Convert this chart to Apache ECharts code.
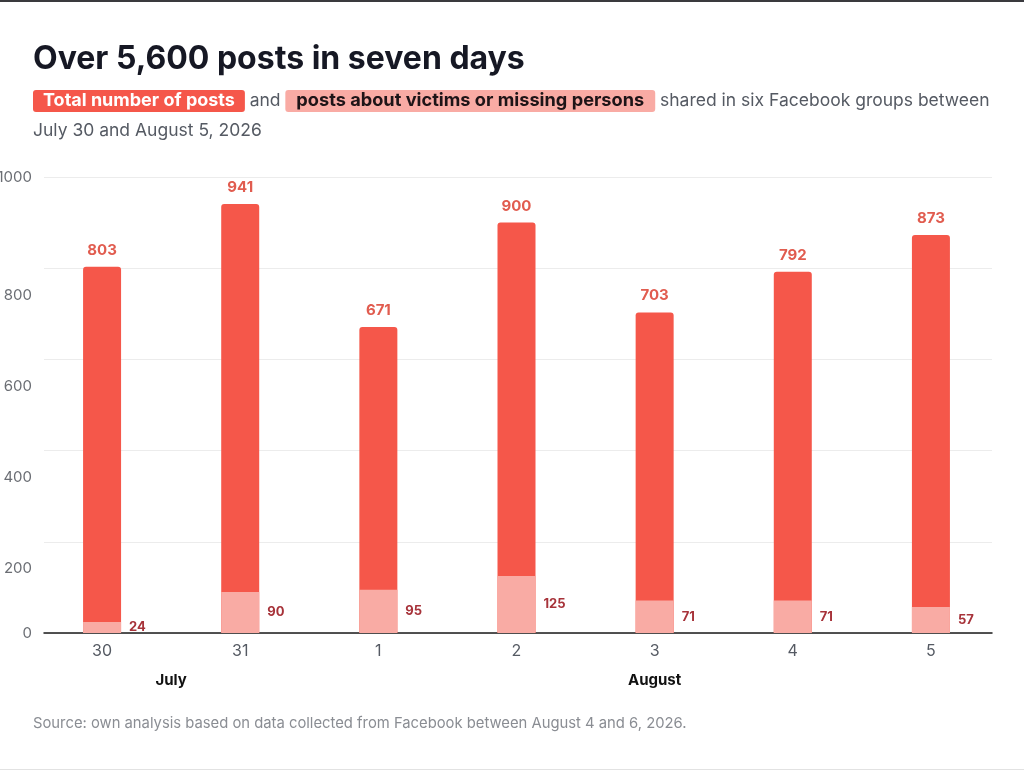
<!DOCTYPE html>
<html>
<head>
<meta charset="utf-8">
<script src="https://cdn.jsdelivr.net/npm/echarts@6/dist/echarts.min.js"></script>
<style>
html,body{margin:0;padding:0;background:#fff;}
#chart{width:1024px;height:773px;}
</style>
</head>
<body>
<div id="chart"></div>
<script>
// ---- data ----
var days = ['30', '31', '1', '2', '3', '4', '5'];
var totalPosts = [803, 941, 671, 900, 703, 792, 873];
var victimPosts = [24, 90, 95, 125, 71, 71, 57];
var monthPositions = [0.5, 4];
var monthNames = ['July', 'August'];

var FONT = 'Inter, "Noto Sans", sans-serif';
var RED = '#f5574a';
var PINK = '#f9aba4';

var chart = echarts.init(document.getElementById('chart'), null, {renderer: 'canvas'});

var option = {
  backgroundColor: '#ffffff',
  animation: false,
  textStyle: {fontFamily: FONT},
  title: [
    {
      text: 'Over 5,600 posts in seven days',
      left: 33, top: 43, padding: 0,
      textStyle: {fontFamily: FONT, fontSize: 32, fontWeight: 700, color: '#161824', letterSpacing: -0.5}
    },
    {
      text: '{r|Total number of posts} {g|and} {p|posts about victims or missing persons} {g|shared in six Facebook groups between}\n{g|July 30 and August 5, 2026}',
      left: 33, top: 86, padding: 0,
      textStyle: {
        fontFamily: FONT, fontSize: 17, fontWeight: 400, color: '#555a63', lineHeight: 30,
        rich: {
          r: {fontFamily: FONT, fontSize: 18, fontWeight: 700, color: '#ffffff', backgroundColor: RED, borderRadius: 3, padding: [2, 10, 2, 10], lineHeight: 30},
          p: {fontFamily: FONT, fontSize: 18.2, fontWeight: 700, color: '#1e1417', backgroundColor: PINK, borderRadius: 3, padding: [2, 11, 2, 11], lineHeight: 30},
          g: {fontFamily: FONT, fontSize: 17.5, fontWeight: 400, color: '#555a63', lineHeight: 30}
        }
      }
    },
    {
      text: 'Source: own analysis based on data collected from Facebook between August 4 and 6, 2026.',
      left: 33, top: 716, padding: 0,
      textStyle: {fontFamily: FONT, fontSize: 14.8, fontWeight: 400, color: '#8a8d93'}
    }
  ],
  grid: [
    {left: 44, right: 32, top: 177, bottom: 140, containLabel: false, outerBoundsMode: 'none'},
    {left: 33, right: 24, top: 177, bottom: 140, containLabel: false, outerBoundsMode: 'none'}
  ],
  xAxis: [
    {
      type: 'value', gridIndex: 0, min: 0, max: 1, interval: 1,
      axisLine: {show: true, onZero: false, lineStyle: {color: '#1a1a1a', width: 1.5}},
      axisTick: {show: false}, axisLabel: {show: false}, splitLine: {show: false}
    },
    {
      type: 'category', gridIndex: 1, data: days,
      axisLine: {show: false}, axisTick: {show: false}, splitLine: {show: false},
      axisLabel: {margin: 10, fontFamily: FONT, fontSize: 16, color: '#555a63'}
    },
    {
      type: 'value', gridIndex: 1, position: 'bottom', offset: 30,
      min: -0.5, max: 6.5, interval: 0.5,
      axisLine: {show: false}, axisTick: {show: false}, splitLine: {show: false},
      axisLabel: {
        margin: 10, fontFamily: FONT, fontSize: 15, fontWeight: 700, color: '#111111',
        showMinLabel: false, showMaxLabel: false,
        formatter: function (v) {
          for (var i = 0; i < monthPositions.length; i++) {
            if (Math.abs(v - monthPositions[i]) < 1e-6) return monthNames[i];
          }
          return '';
        }
      }
    }
  ],
  yAxis: [
    {
      type: 'value', gridIndex: 0, min: 0, max: 1000, interval: 200,
      axisLine: {show: false}, axisTick: {show: false},
      splitLine: {show: true, lineStyle: {color: '#ececec', width: 1}},
      axisLabel: {
        margin: 12, fontFamily: FONT, fontSize: 15, color: '#6b6e74',
        formatter: function (v) {
          if (v > 0 && v < 1000) return '{s|' + v + '}';
          return '{n|' + v + '}';
        },
        rich: {
          s: {fontFamily: FONT, fontSize: 15, color: '#6b6e74', padding: [54, 0, 0, 0]},
          n: {fontFamily: FONT, fontSize: 15, color: '#6b6e74'}
        }
      }
    },
    {
      type: 'value', gridIndex: 1, min: 0, max: 1000, interval: 200, show: false,
      splitLine: {show: false}
    }
  ],
  series: [
    {
      name: 'Total number of posts',
      type: 'bar', xAxisIndex: 1, yAxisIndex: 1,
      data: totalPosts, barWidth: 38, barGap: '-100%',
      itemStyle: {color: RED, borderRadius: [3, 3, 0, 0]},
      label: {show: true, position: 'top', distance: 9, fontFamily: FONT, fontSize: 15, fontWeight: 700, color: '#e15c4f'},
      z: 2
    },
    {
      name: 'Posts about victims or missing persons',
      type: 'bar', xAxisIndex: 1, yAxisIndex: 1,
      data: victimPosts, barWidth: 38, barGap: '-100%',
      itemStyle: {color: PINK},
      label: {show: true, position: 'right', distance: 8, fontFamily: FONT, fontSize: 13, fontWeight: 700, color: '#a7333a'},
      z: 3
    }
  ],
  graphic: [
    {type: 'rect', left: 0, top: 0, shape: {width: 1024, height: 2}, style: {fill: '#3a3a3e'}, silent: true},
    {type: 'rect', left: 0, top: 769, shape: {width: 1024, height: 1}, style: {fill: '#e2e2e2'}, silent: true}
  ]
};

chart.setOption(option);
</script>
</body>
</html>
